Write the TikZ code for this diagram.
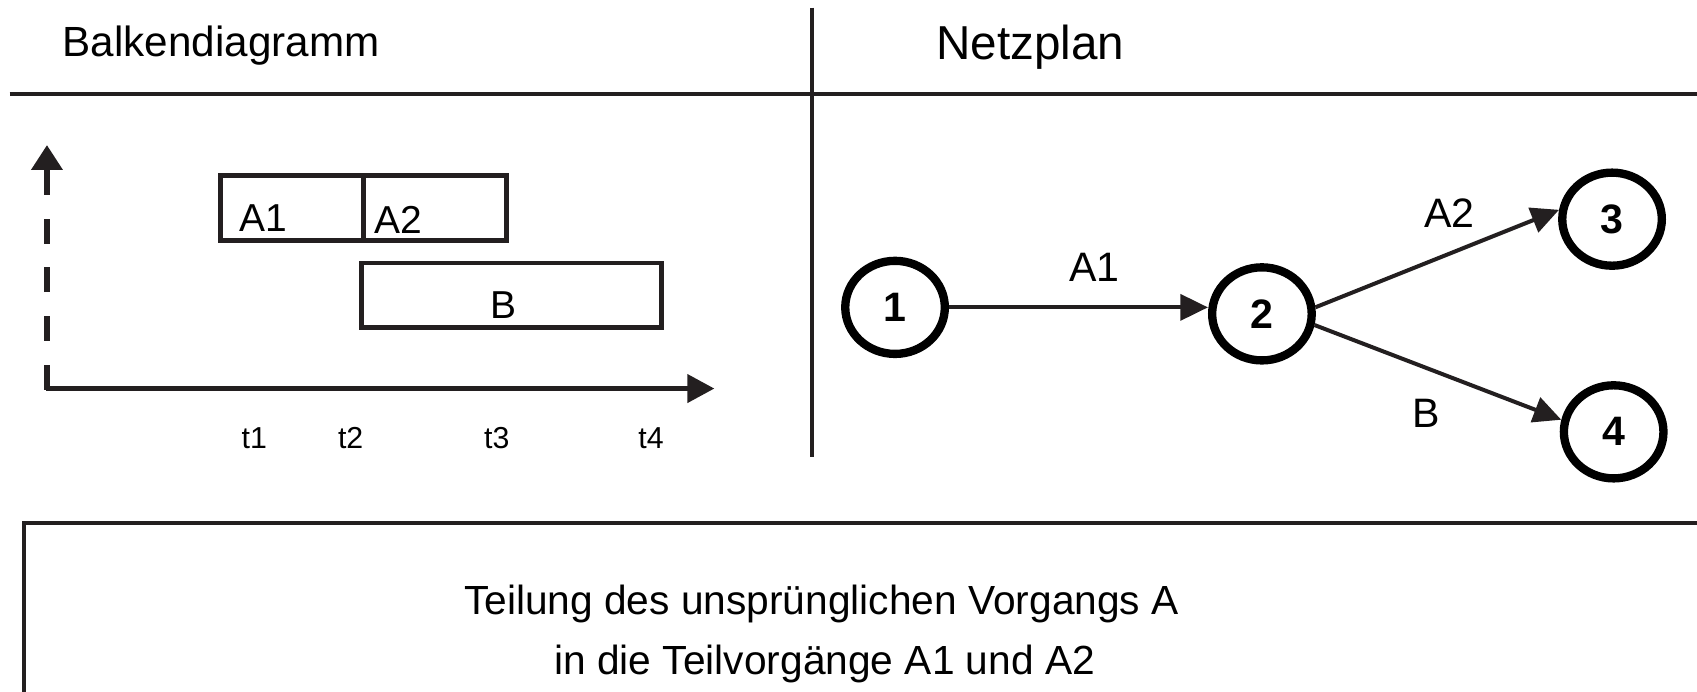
\documentclass[tikz,border=0pt]{standalone}
\usepackage{fontspec}
\setmainfont{Liberation Sans}
\usetikzlibrary{arrows.meta,shapes.geometric}
\definecolor{ink}{RGB}{35,31,32}
\begin{document}
\begin{tikzpicture}[x=0.5pt,y=-0.5pt,
  lbl/.style={inner sep=0pt, outer sep=0pt},
  frameline/.style={draw=ink, line width=1.95pt},
  divline/.style={draw=ink, line width=1.7pt},
  barbox/.style={draw=ink, line width=2.3pt},
  netnode/.style={ellipse, draw=black, line width=3.85pt, minimum width=46pt, minimum height=43pt, inner sep=0pt,
    font=\fontsize{19pt}{22pt}\selectfont\bfseries},
  netarrow/.style={draw=ink, fill=ink, line width=1.85pt, -{Triangle[length=12.8pt,width=12pt]}},
  boxlabel/.style={lbl, anchor=base west, font=\fontsize{18pt}{21pt}\selectfont},
  ticklabel/.style={lbl, anchor=base, font=\fontsize{14pt}{17pt}\selectfont},
  edgelabel/.style={lbl, font=\fontsize{19pt}{22pt}\selectfont},
  bigtext/.style={lbl, anchor=base, font=\fontsize{18.8pt}{22pt}\selectfont}]
\useasboundingbox (0,0) rectangle (1568,639);

% frame lines
\coordinate (hl) at (9,87);
\coordinate (hr) at (1575,87);
\draw[frameline] (hl) -- (hr);
\coordinate (vt) at (750,7);
\coordinate (vb) at (750,422);
\draw[divline] (vt) -- (vb);

% titles
\node[lbl, anchor=base west, font=\fontsize{19.5pt}{23pt}\selectfont] (t-balken) at (58,52) {Balkendiagramm};
\node[lbl, anchor=base west, font=\fontsize{22pt}{26pt}\selectfont] (t-netz) at (865,55.4) {Netzplan};

% bar chart axes
\coordinate (origin) at (43.4,359);
\coordinate (ybase) at (43.4,360);
\coordinate (ytop) at (43.4,134);
\coordinate (xstart) at (42.1,359);
\coordinate (xend) at (660,359);
\draw[draw=ink, line width=2.7pt, dash pattern=on 11.5pt off 11pt, -{Triangle[length=11.5pt,width=14pt]}] (ybase) -- (ytop);
\draw[draw=ink, line width=1.9pt, -{Triangle[length=12.5pt,width=13pt]}] (xstart) -- (xend);

% bars
\draw[barbox] (204,162) rectangle (336,222);
\draw[barbox] (336,162) rectangle (468,222);
\draw[barbox] (334,243) rectangle (611,303);
\node[boxlabel] (la1) at (221,214) {A1};
\node[boxlabel] (la2) at (346,216) {A2};
\node[boxlabel] (lb) at (453,294) {B};

% ticks
\node[ticklabel] (tk1) at (235,414) {t1};
\node[ticklabel] (tk2) at (324,414) {t2};
\node[ticklabel] (tk3) at (459,414) {t3};
\node[ticklabel] (tk4) at (601.5,414) {t4};

% network
\node[netnode] (c1) at (827,284) {1};
\node[netnode] (c2) at (1166,290) {2};
\node[netnode] (c3) at (1489.5,202.5) {3};
\node[netnode] (c4) at (1491,399) {4};
\draw[netarrow] (c1.east) -- (c1.east -| c2.west);
\draw[netarrow] (c2.7) -- (c3.170);
\draw[netarrow] (c2.-12) -- (c4.167);
\node[edgelabel] (ea1) at (1011,247) {A1};
\node[edgelabel] (ea2) at (1339,197) {A2};
\node[edgelabel] (eb) at (1318,382) {B};

% bottom box
\coordinate (bl) at (22,650);
\coordinate (btl) at (22,483);
\coordinate (btr) at (1575,483);
\draw[frameline] (bl) -- (btl) -- (btr);
\node[bigtext] (txt1) at (759,567.5) {Teilung des unsprünglichen Vorgangs A};
\node[bigtext] (txt2) at (762,623.5) {in die Teilvorgänge A1 und A2};
\end{tikzpicture}
\end{document}
